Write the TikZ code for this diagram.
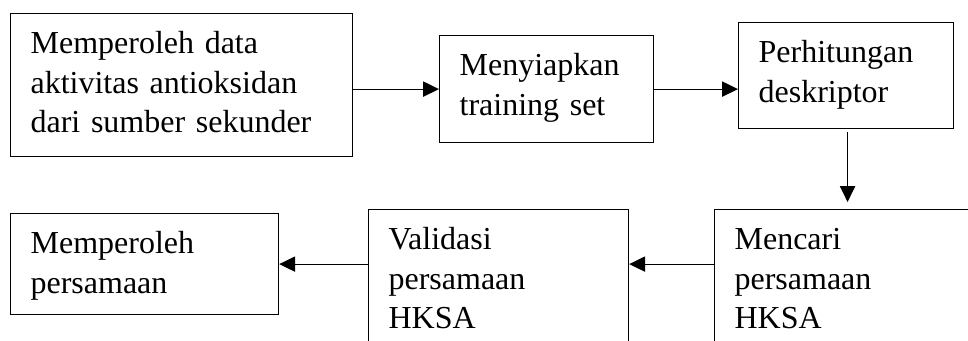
\documentclass[tikz,border=0pt]{standalone}
\usepackage{fontspec}
\setmainfont{Liberation Serif}
\usetikzlibrary{arrows.meta}

\tikzset{
    stepbox/.style={draw, line width=0.9pt, anchor=north west, align=left,
        inner xsep=15pt, inner ysep=0pt, text height=30pt,
        font=\fontsize{24pt}{29.6pt}\selectfont},
    flow/.style={line width=0.9pt, -{Triangle[length=12pt, width=11.5pt]}}
}

\begin{document}
\begin{tikzpicture}[x=0.75pt, y=-0.75pt]
    \clip (0,0) rectangle (968,340);

    % =========================================================
    % BARIS ATAS
    % =========================================================
    \node[stepbox, text width=226.5pt, text depth=77.25pt] (data) at (10,13)
        {Memperoleh data\\aktivitas antioksidan\\dari sumber sekunder};
    \node[stepbox, text width=130.5pt, text depth=50.25pt] (train) at (439,35)
        {Menyiapkan\\training set};
    \node[stepbox, text width=131.25pt, text depth=49.5pt] (desc) at (738,22)
        {Perhitungan\\deskriptor};

    % =========================================================
    % BARIS BAWAH
    % =========================================================
    \node[stepbox, text width=195pt, text depth=78.75pt] (hksa) at (714,209)
        {Mencari\\persamaan\\HKSA};
    \node[stepbox, text width=165pt, text depth=78.75pt] (valid) at (368,209)
        {Validasi\\persamaan\\HKSA};
    \node[stepbox, text width=171pt, text depth=45.75pt] (eq) at (10,213)
        {Memperoleh\\persamaan};

    % Panah
    \draw[flow] (data.east |- train.west) -- (train.west);
    \draw[flow] (train.east) -- (train.east -| desc.west);
    \draw[flow] ([xshift=1.1pt, yshift=-2.25pt]desc.south)
        -- ([xshift=1.1pt, yshift=5.25pt]desc.south |- hksa.north);
    \draw[flow] (hksa.west |- eq.east) -- (valid.east |- eq.east);
    \draw[flow] (valid.west |- eq.east) -- (eq.east);
\end{tikzpicture}
\end{document}
